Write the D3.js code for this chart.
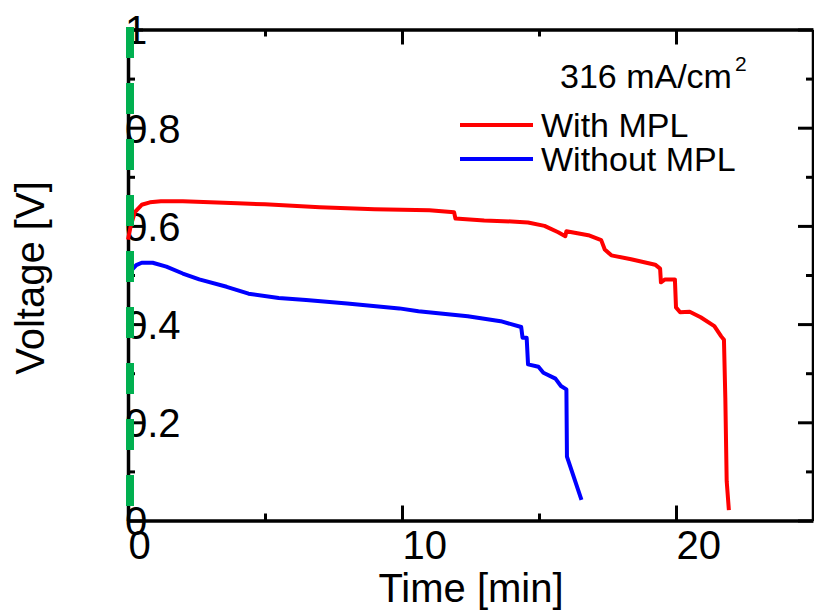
<!DOCTYPE html>
<html>
<head>
<meta charset="utf-8">
<script src="https://cdn.jsdelivr.net/npm/d3@7"></script>
<style>
body { margin: 0; background: #fff; }
text { font-family: "Liberation Sans", Arial, sans-serif; }
</style>
</head>
<body>
<svg id="chart" width="814" height="612"></svg>
<script>
// time [min], voltage [V]
var withTime = [0, 0.1, 0.25, 0.5, 0.8, 1.2, 2, 3, 4, 5, 6, 7, 8, 9, 10, 11, 11.9, 11.95, 13, 14, 14.6, 15.2, 15.7, 15.96, 16.0, 16.8, 17.27, 17.4, 17.64, 18.36, 19.24, 19.42, 19.45, 19.6, 19.96, 20.0, 20.15, 20.5, 20.9, 21.4, 21.65, 21.75, 21.8, 21.85, 21.93];
var withVolt = [0.572, 0.600, 0.628, 0.643, 0.648, 0.650, 0.650, 0.648, 0.646, 0.644, 0.641, 0.638, 0.636, 0.634, 0.633, 0.632, 0.628, 0.615, 0.611, 0.609, 0.607, 0.600, 0.587, 0.579, 0.589, 0.581, 0.571, 0.552, 0.540, 0.532, 0.521, 0.513, 0.485, 0.491, 0.491, 0.434, 0.424, 0.425, 0.414, 0.396, 0.375, 0.368, 0.25, 0.08, 0.021];

var withoutTime = [0.15, 0.3, 0.5, 0.9, 1.4, 2.0, 2.6, 3.6, 4.4, 5.5, 6.5, 8, 9.9, 10.6, 12.4, 13.6, 14.35, 14.4, 14.55, 14.6, 14.98, 15.16, 15.6, 15.8, 16.0, 16.02, 16.55];
var withoutVolt = [0.511, 0.520, 0.525, 0.525, 0.517, 0.503, 0.491, 0.476, 0.462, 0.453, 0.449, 0.442, 0.432, 0.426, 0.416, 0.406, 0.394, 0.372, 0.372, 0.318, 0.313, 0.301, 0.289, 0.274, 0.267, 0.13, 0.042];

var xMajor = [0, 10, 20];
var xMinor = [5, 15];
var yMajor = [0, 0.2, 0.4, 0.6, 0.8, 1];
var yMinor = [0.1, 0.3, 0.5, 0.7, 0.9];
var yTickLabels = ['0', '0.2', '0.4', '0.6', '0.8', '1'];

var seriesNames = ['With MPL', 'Without MPL'];
var seriesColors = ['#ff0000', '#0000ff'];

var plotLeft = 128, plotRight = 813, plotTop = 29.5, plotBottom = 520.5;

var svg = d3.select('#chart');

var x = d3.scaleLinear().domain([0, 25]).range([plotLeft, plotRight]);
var y = d3.scaleLinear().domain([0, 1]).range([plotBottom, plotTop]);

function styleAxis(g) {
    g.select('.domain').attr('stroke', '#000').attr('stroke-width', 3.5);
    g.selectAll('.tick line').attr('stroke', '#000').attr('stroke-width', 3);
    g.selectAll('.tick text').attr('fill', '#000').attr('font-size', 40);
}

// bottom axis
var gx = svg.append('g')
    .attr('transform', 'translate(0,' + plotBottom + ')')
    .call(d3.axisBottom(x).tickValues(xMajor).tickFormat(d3.format('d'))
        .tickSizeInner(-15).tickSizeOuter(0).tickPadding(10));
styleAxis(gx);
gx.selectAll('.tick text').attr('text-anchor', 'start').attr('x', 0);

var gxm = svg.append('g')
    .attr('transform', 'translate(0,' + plotBottom + ')')
    .call(d3.axisBottom(x).tickValues(xMinor).tickFormat('').tickSizeInner(-7).tickSizeOuter(0));
styleAxis(gxm);
gxm.select('.domain').remove();

// top axis
var gt = svg.append('g')
    .attr('transform', 'translate(0,' + plotTop + ')')
    .call(d3.axisTop(x).tickValues(xMajor).tickFormat('').tickSizeInner(-15).tickSizeOuter(0));
styleAxis(gt);
var gtm = svg.append('g')
    .attr('transform', 'translate(0,' + plotTop + ')')
    .call(d3.axisTop(x).tickValues(xMinor).tickFormat('').tickSizeInner(-7).tickSizeOuter(0));
styleAxis(gtm);
gtm.select('.domain').remove();

// right axis
var gr = svg.append('g')
    .attr('transform', 'translate(' + plotRight + ',0)')
    .call(d3.axisRight(y).tickValues(yMajor).tickFormat('').tickSizeInner(-15).tickSizeOuter(0));
styleAxis(gr);
var grm = svg.append('g')
    .attr('transform', 'translate(' + plotRight + ',0)')
    .call(d3.axisRight(y).tickValues(yMinor).tickFormat('').tickSizeInner(-7).tickSizeOuter(0));
styleAxis(grm);
grm.select('.domain').remove();

// left axis, labels sit on top of the axis line like in the original
var gy = svg.append('g')
    .attr('transform', 'translate(' + plotLeft + ',0)')
    .call(d3.axisLeft(y).tickValues(yMajor)
        .tickFormat(function(d, i) { return yTickLabels[i]; })
        .tickSizeInner(-15).tickSizeOuter(0));
styleAxis(gy);
gy.selectAll('.tick text').attr('text-anchor', 'start').attr('x', -3).attr('dy', '0.36em');

var gym = svg.append('g')
    .attr('transform', 'translate(' + plotLeft + ',0)')
    .call(d3.axisLeft(y).tickValues(yMinor).tickFormat('').tickSizeInner(-7).tickSizeOuter(0));
styleAxis(gym);
gym.select('.domain').remove();

// axis titles
svg.append('text')
    .attr('x', 471)
    .attr('y', 602)
    .attr('text-anchor', 'middle')
    .attr('font-size', 40)
    .text('Time [min]');

svg.append('text')
    .attr('transform', 'translate(44,278) rotate(-90)')
    .attr('text-anchor', 'middle')
    .attr('font-size', 40)
    .text('Voltage [V]');

// data lines
var line = d3.line()
    .x(function(d) { return x(d[0]); })
    .y(function(d) { return y(d[1]); });

var withData = d3.zip(withTime, withVolt);
var withoutData = d3.zip(withoutTime, withoutVolt);

svg.append('path')
    .datum(withData)
    .attr('fill', 'none')
    .attr('stroke', seriesColors[0])
    .attr('stroke-width', 4)
    .attr('stroke-linejoin', 'round')
    .attr('d', line);

svg.append('path')
    .datum(withoutData)
    .attr('fill', 'none')
    .attr('stroke', seriesColors[1])
    .attr('stroke-width', 4)
    .attr('stroke-linejoin', 'round')
    .attr('d', line);

// green dashed line on the left edge
svg.append('line')
    .attr('x1', plotLeft + 2).attr('x2', plotLeft + 2)
    .attr('y1', 27).attr('y2', plotBottom)
    .attr('stroke', '#00b050')
    .attr('stroke-width', 8)
    .attr('stroke-dasharray', '31,25');

// legend
var cap = svg.append('text')
    .attr('x', 560)
    .attr('y', 88)
    .attr('font-size', 34);
cap.append('tspan').text('316 mA/cm');
cap.append('tspan').attr('font-size', 21).attr('dx', 3).attr('dy', -17).text('2');

var legendY = [125, 159];
seriesNames.forEach(function(name, i) {
    svg.append('line')
        .attr('x1', 460).attr('x2', 533)
        .attr('y1', legendY[i]).attr('y2', legendY[i])
        .attr('stroke', seriesColors[i])
        .attr('stroke-width', 4);
    svg.append('text')
        .attr('x', 541)
        .attr('y', legendY[i] + 12)
        .attr('font-size', 34)
        .text(name);
});
</script>
</body>
</html>
